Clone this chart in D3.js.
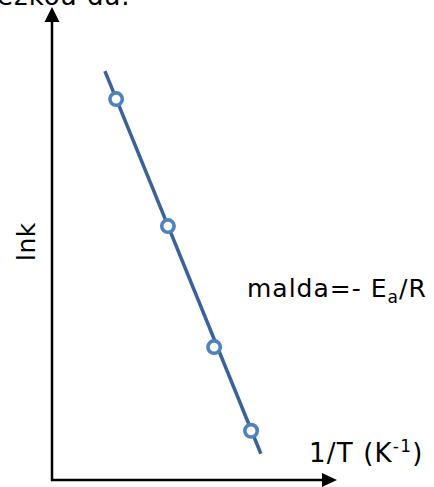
<!DOCTYPE html>
<html><head><meta charset="utf-8">
<script src="https://cdn.jsdelivr.net/npm/d3@7"></script>
<style>body{margin:0;background:#fff}svg{display:block}text{font-family:Verdana,"DejaVu Sans",sans-serif;fill:#000}</style>
</head><body><svg id="c" width="434" height="487"></svg>
<script>
// data (abstract units)
const invT = [2.29, 4.14, 5.79, 7.11];
const lnk = [8.28, 5.52, 2.89, 1.07];
const fitX = [1.89, 7.46];
const fitY = [8.89, 0.57];
const labels = {x: "1/T (K", y: "lnk", slope: "malda=- E", top: "ezkoa da."};

const svg = d3.select("#c");
const x = d3.scaleLinear().domain([0, 10]).range([52, 332]);
const y = d3.scaleLinear().domain([0, 10]).range([480, 20]);

// axes
const x0 = x(0), y0 = y(0);
svg.append("line").attr("x1", x0).attr("y1", y0 + 1).attr("x2", x0).attr("y2", 20)
  .attr("stroke", "#000").attr("stroke-width", 2.5);
svg.append("line").attr("x1", x0 - 1).attr("y1", y0).attr("x2", 323).attr("y2", y0)
  .attr("stroke", "#000").attr("stroke-width", 2.5);
svg.append("path").attr("d", `M${x0},7 L${x0 - 7.5},22 L${x0 + 7.5},22 Z`).attr("fill", "#000");
svg.append("path").attr("d", `M337,${y0} L322,${y0 - 7} L322,${y0 + 7} Z`).attr("fill", "#000");

// fit line
svg.append("line")
  .attr("x1", x(fitX[0])).attr("y1", y(fitY[0]))
  .attr("x2", x(fitX[1])).attr("y2", y(fitY[1]))
  .attr("stroke", "#3a6298").attr("stroke-width", 3.5);

// points
svg.selectAll("circle.p").data(invT.map((v, i) => [v, lnk[i]])).enter()
  .append("circle").attr("class", "p")
  .attr("cx", d => x(d[0])).attr("cy", d => y(d[1])).attr("r", 6.2)
  .attr("fill", "#fff").attr("stroke", "#4f81bd").attr("stroke-width", 3.6);

// texts
svg.append("text").attr("x", -3).attr("y", 5).attr("font-size", 26).attr("letter-spacing", 1).text(labels.top);
svg.append("text").attr("transform", "translate(35,261) rotate(-90)").attr("font-size", 25).attr("letter-spacing", 0.5).text(labels.y);
const s = svg.append("text").attr("x", 247).attr("y", 297).attr("font-size", 25).attr("letter-spacing", 1);
s.append("tspan").text(labels.slope);
s.append("tspan").attr("font-size", 17).attr("dy", 6).text("a");
s.append("tspan").attr("dy", -6).text("/R");
const t = svg.append("text").attr("x", 309).attr("y", 462).attr("font-size", 26).attr("letter-spacing", 1.2);
t.append("tspan").text(labels.x);
t.append("tspan").attr("font-size", 17).attr("dy", -10).text("-1");
t.append("tspan").attr("dy", 10).text(")");
</script></body></html>
